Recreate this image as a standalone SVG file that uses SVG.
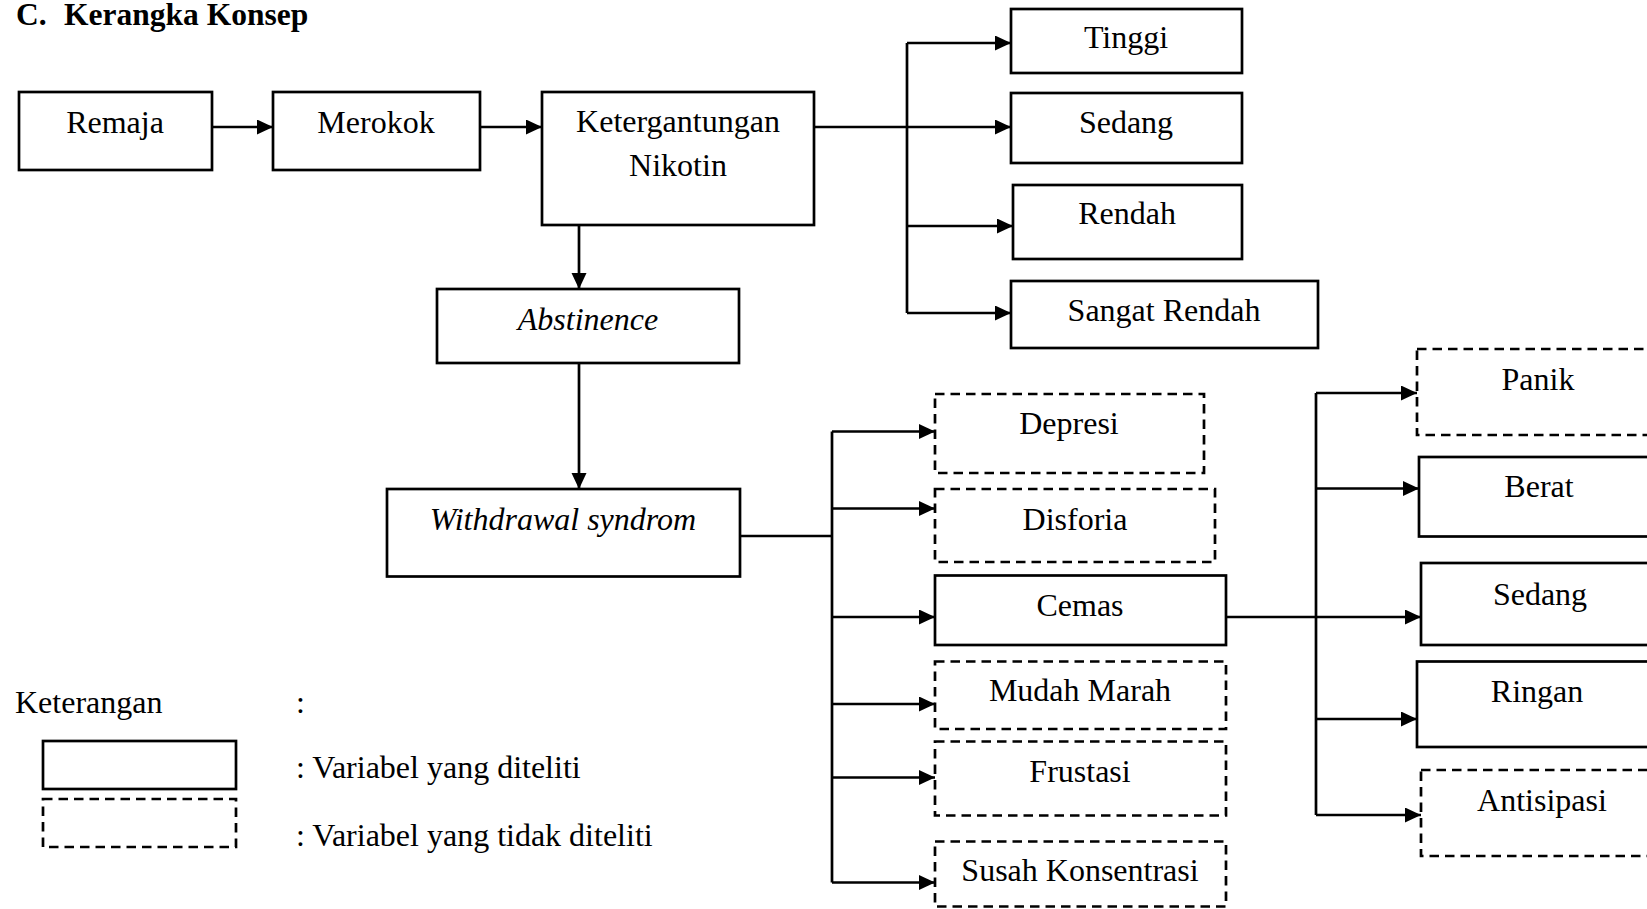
<svg xmlns="http://www.w3.org/2000/svg" width="1647" height="909" viewBox="0 0 1647 909">
<style>
  .box { fill: #ffffff; stroke: #000000; stroke-width: 2.7; }
  .dash { fill: #ffffff; stroke: #000000; stroke-width: 2.7; stroke-dasharray: 9.5 6; }
  .t { font-family: "Liberation Serif", "Times New Roman", serif; font-size: 32px; fill: #000000; text-anchor: middle; }
  .ti { font-family: "Liberation Serif", "Times New Roman", serif; font-size: 32px; fill: #000000; text-anchor: middle; font-style: italic; }
  .tl { font-family: "Liberation Serif", "Times New Roman", serif; font-size: 32px; fill: #000000; }
  .title { font-family: "Liberation Serif", "Times New Roman", serif; font-size: 31.5px; font-weight: bold; fill: #000000; }
  .c { fill: none; stroke: #000000; stroke-width: 2.7; }
  .ca { fill: none; stroke: #000000; stroke-width: 2.7; marker-end: url(#arr); }
</style>
<defs>
  <marker id="arr" markerUnits="userSpaceOnUse" markerWidth="17" markerHeight="16" refX="16" refY="7.5" orient="auto">
    <path d="M0,0 L16,7.5 L0,15 Z" fill="#000000"/>
  </marker>
</defs>
<rect width="1647" height="909" fill="#ffffff"/>

<text class="title" y="25"><tspan x="16">C.</tspan><tspan x="64">Kerangka Konsep</tspan></text>

<g id="connectors">
  <line class="ca" x1="212" y1="127" x2="273" y2="127"/>
  <line class="ca" x1="480" y1="127" x2="542" y2="127"/>
  <line class="c" x1="814" y1="127" x2="907" y2="127"/>
  <line class="c" x1="907" y1="43" x2="907" y2="313"/>
  <line class="ca" x1="907" y1="43" x2="1011" y2="43"/>
  <line class="ca" x1="907" y1="127" x2="1011" y2="127"/>
  <line class="ca" x1="907" y1="226" x2="1013" y2="226"/>
  <line class="ca" x1="907" y1="313" x2="1011" y2="313"/>
  <line class="ca" x1="579" y1="225" x2="579" y2="289"/>
  <line class="ca" x1="579" y1="363" x2="579" y2="489"/>
  <line class="c" x1="740" y1="536" x2="832" y2="536"/>
  <line class="c" x1="832" y1="431.5" x2="832" y2="882.5"/>
  <line class="ca" x1="832" y1="431.5" x2="935" y2="431.5"/>
  <line class="ca" x1="832" y1="508.5" x2="935" y2="508.5"/>
  <line class="ca" x1="832" y1="617" x2="935" y2="617"/>
  <line class="ca" x1="832" y1="704" x2="935" y2="704"/>
  <line class="ca" x1="832" y1="777.5" x2="935" y2="777.5"/>
  <line class="ca" x1="832" y1="882.5" x2="935" y2="882.5"/>
  <line class="c" x1="1226" y1="617" x2="1316" y2="617"/>
  <line class="c" x1="1316" y1="393" x2="1316" y2="815"/>
  <line class="ca" x1="1316" y1="393" x2="1417" y2="393"/>
  <line class="ca" x1="1316" y1="488.5" x2="1419" y2="488.5"/>
  <line class="ca" x1="1316" y1="617" x2="1421" y2="617"/>
  <line class="ca" x1="1316" y1="719" x2="1417" y2="719"/>
  <line class="ca" x1="1316" y1="815" x2="1421" y2="815"/>
</g>

<g id="remaja"><rect class="box" x="19" y="92" width="193" height="78"/><text class="t" x="115" y="133">Remaja</text></g>
<g id="merokok"><rect class="box" x="273" y="92" width="207" height="78"/><text class="t" x="376" y="133">Merokok</text></g>
<g id="ketergantungan"><rect class="box" x="542" y="92" width="272" height="133"/><text class="t" x="678" y="132">Ketergantungan</text><text class="t" x="678" y="176">Nikotin</text></g>
<g id="abstinence"><rect class="box" x="437" y="289" width="302" height="74"/><text class="ti" x="588" y="330">Abstinence</text></g>
<g id="withdrawal"><rect class="box" x="387" y="489" width="353" height="87.5"/><text class="ti" x="563" y="529.5">Withdrawal syndrom</text></g>

<g id="tinggi"><rect class="box" x="1011" y="9" width="231" height="64"/><text class="t" x="1126" y="48">Tinggi</text></g>
<g id="sedang1"><rect class="box" x="1011" y="93" width="231" height="70"/><text class="t" x="1126" y="133">Sedang</text></g>
<g id="rendah"><rect class="box" x="1013" y="185" width="229" height="74"/><text class="t" x="1127" y="224">Rendah</text></g>
<g id="sangat-rendah"><rect class="box" x="1011" y="281" width="307" height="67"/><text class="t" x="1164" y="321">Sangat Rendah</text></g>

<g id="depresi"><rect class="dash" x="935" y="394" width="269" height="79"/><text class="t" x="1069" y="434">Depresi</text></g>
<g id="disforia"><rect class="dash" x="935" y="489" width="280" height="73"/><text class="t" x="1075" y="530">Disforia</text></g>
<g id="cemas"><rect class="box" x="935" y="575.5" width="291" height="69.5"/><text class="t" x="1080" y="616">Cemas</text></g>
<g id="mudah-marah"><rect class="dash" x="935" y="661.5" width="291" height="67.5"/><text class="t" x="1080" y="701">Mudah Marah</text></g>
<g id="frustasi"><rect class="dash" x="935" y="741.5" width="291" height="74"/><text class="t" x="1080" y="782">Frustasi</text></g>
<g id="susah-konsentrasi"><rect class="dash" x="935" y="841.5" width="291" height="65"/><text class="t" x="1080" y="881">Susah Konsentrasi</text></g>

<g id="panik"><rect class="dash" x="1417" y="349" width="245" height="86"/><text class="t" x="1538" y="390">Panik</text></g>
<g id="berat"><rect class="box" x="1419" y="457" width="245" height="79.5"/><text class="t" x="1539" y="497">Berat</text></g>
<g id="sedang2"><rect class="box" x="1421" y="563" width="245" height="82"/><text class="t" x="1540" y="605">Sedang</text></g>
<g id="ringan"><rect class="box" x="1417" y="661.5" width="245" height="85.5"/><text class="t" x="1537" y="702">Ringan</text></g>
<g id="antisipasi"><rect class="dash" x="1421" y="770" width="245" height="86"/><text class="t" x="1542" y="811">Antisipasi</text></g>

<g id="legend">
  <text class="tl" x="15" y="713">Keterangan</text>
  <text class="tl" x="296" y="713">:</text>
  <rect class="box" x="43" y="741" width="193" height="48"/>
  <rect class="dash" x="43" y="799" width="193" height="48"/>
  <text class="tl" x="296" y="778">: Variabel yang diteliti</text>
  <text class="tl" x="296" y="846">: Variabel yang tidak diteliti</text>
</g>
</svg>
